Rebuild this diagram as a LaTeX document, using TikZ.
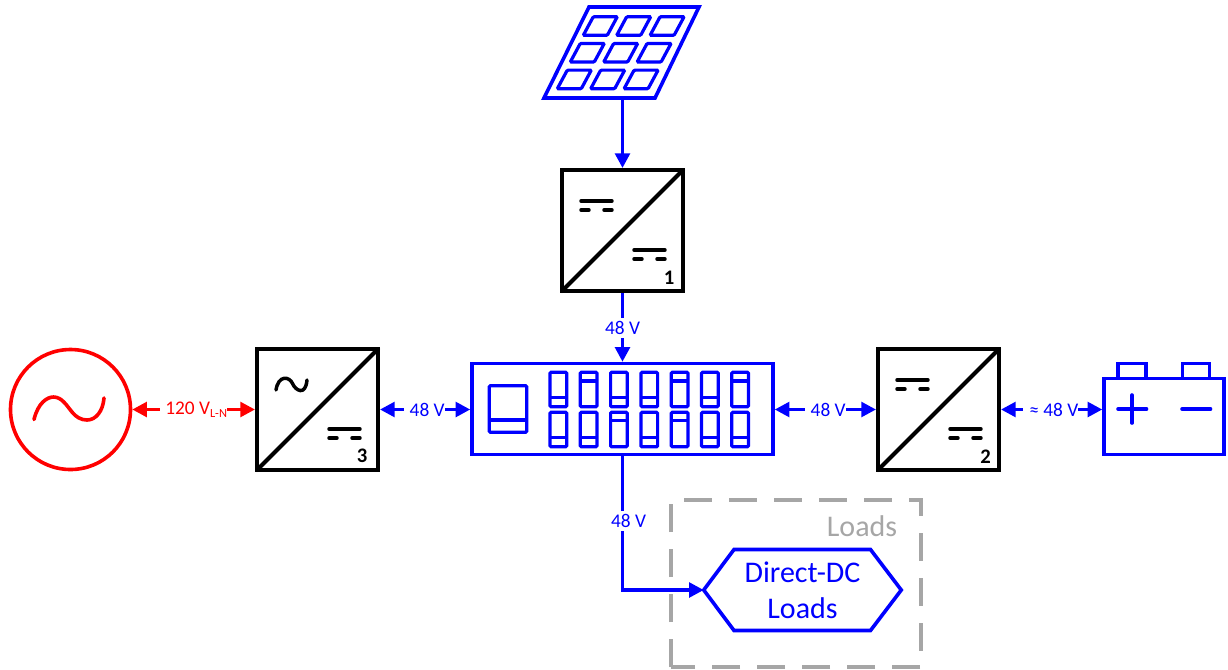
\documentclass[tikz,border=0pt]{standalone}
\usepackage{fontspec}
\setmainfont{Carlito}
\usetikzlibrary{arrows.meta}
\definecolor{busblue}{RGB}{0,0,255}
\definecolor{acred}{RGB}{255,0,0}
\definecolor{loadgray}{RGB}{166,166,166}
\tikzset{
  x=0.75pt,y=-0.75pt,
  line join=round,
  convbox/.style={draw=black,line width=3pt,fill=white,minimum size=90.75pt,inner sep=0pt,outer sep=1.5pt},
  convline/.style={draw=black,line width=3pt,line cap=round},
  markline/.style={draw=black,line width=2.6pt,line cap=round},
  convnum/.style={font=\fontsize{15.5}{16}\selectfont\bfseries,text=black,inner sep=0pt},
  bluebox/.style={draw=busblue,line width=2.7pt,fill=white,inner sep=0pt,outer sep=1.3pt},
  icon/.style={draw=busblue,line width=2.4pt,rounded corners=0.8pt},
  heavy/.style={draw=busblue,line width=2.7pt},
  wire/.style={draw=busblue,line width=2.6pt},
  redwire/.style={draw=acred,line width=2.6pt},
  tip/.style={-{Triangle[length=11pt,width=11pt]}},
  tips/.style={{Triangle[length=11pt,width=11pt]}-{Triangle[length=11pt,width=11pt]}},
  vlabel/.style={fill=white,text=busblue,inner xsep=0pt,inner ysep=2.5pt,font=\fontsize{14.5}{15}\selectfont},
  rlabel/.style={fill=white,text=acred,inner xsep=0pt,inner ysep=2.5pt,font=\fontsize{14.5}{15}\selectfont},
}
\newcommand{\dcmark}[2]{%
  \draw[markline] (#1,#2) -- ++(31,0);
  \draw[markline] (#1,#2+9) -- ++(8,0);
  \draw[markline] (#1+23,#2+9) -- ++(8,0);
}
\begin{document}
\begin{tikzpicture}
\useasboundingbox (0,0) rectangle (1228,669);
\fill[white] (0,0) rectangle (1228,669);

% nodes
\node[convbox] (conv1) at (622.5,230.5) {};
\node[convbox] (conv3) at (317.5,409.5) {};
\node[convbox] (conv2) at (938.5,409.5) {};
\node[bluebox,minimum width=225.75pt,minimum height=68.25pt] (bus) at (622.5,409) {};
\node[draw=acred,line width=2.7pt,circle,minimum size=90pt,inner sep=0pt,outer sep=1.3pt] (grid) at (70.5,409.5) {};
\node[bluebox,minimum width=90pt,minimum height=57pt] (bat) at (1164,416.3) {};
\node[inner sep=0pt,minimum width=147.75pt,minimum height=60.75pt] (hex) at (802.5,590) {};
\node[inner sep=0pt,text=loadgray,font=\fontsize{22.5}{27}\selectfont] (loadstitle) at (862,526) {Loads};
\coordinate (solarfoot) at (622.5,98);

% Loads group
\draw[loadgray,line width=3pt,dash pattern=on 21pt off 12.75pt] (671,667) -- (671,500) -- (921,500) -- (921,667) -- cycle;

% hexagon
\draw[heavy,fill=white] (hex.west) -- (734,549.5) -- (870.5,549.5) -- (hex.east) -- (870.5,630.5) -- (734,630.5) -- cycle;
\node[inner sep=0pt,text=busblue,align=center,font=\fontsize{22.5}{27}\selectfont] (hextext) at (hex.center) {Direct-DC\\Loads};

% solar panel
\draw[heavy] (589,7) -- (699,7) -- (655,98) -- (544,98) -- cycle;
\foreach \i in {0,1,2}
  \foreach \j in {0,1,2} {
    \pgfmathsetmacro{\tx}{593.3+33.4*\i-13*\j}
    \pgfmathsetmacro{\ty}{16.7+26.7*\j}
    \draw[icon] (\tx,\ty) -- ++(24,0) -- ++(-10,18.6) -- ++(-24,0) -- cycle;
  }

% connectors
\draw[wire,tip] (solarfoot) -- (conv1.north);
\draw[wire,tip] (conv1.south) -- (bus.north);
\draw[wire,tip] (bus.south) |- (hex.west);
\draw[wire,tips] (conv3.east) -- (conv3.east -| bus.west);
\draw[wire,tips] (conv2.west -| bus.east) -- (conv2.west);
\draw[wire,tips] (conv2.east) -- (conv2.east -| bat.west);
\draw[redwire,tips] (grid.east) -- (conv3.west);

% labels
\node[vlabel] (l1) at (622.5,328) {48 V};
\node[vlabel] (l2) at (628.5,520.5) {48 V};
\node[vlabel] (l3) at (424.5,410) {\hspace*{4pt}48 V};
\node[vlabel] (l4) at (825.5,410) {\hspace*{4pt}48 V};
\node[vlabel] (l5) at (1050.5,410) {\hspace*{5pt}≈ 48 V};
\node[rlabel] (l6) at (193.5,410) {\hspace*{4pt}120 V\raisebox{-0.35ex}{\fontsize{9.3}{10}\selectfont L-N}};

% converter diagonals and marks
\foreach \n in {1,2,3} {
  \begin{scope}[shift={(conv\n.center)}]
    \draw[convline] (-60.5,60.5) -- (60.5,-60.5);
    \dcmark{11.5}{19.5}
  \end{scope}
}
\begin{scope}[shift={(conv1.center)}]
  \dcmark{-41.5}{-29.5}
  \node[convnum] (n1) at (46.5,47.5) {1};
\end{scope}
\begin{scope}[shift={(conv2.center)}]
  \dcmark{-41.5}{-29.5}
  \node[convnum] (n2) at (47,47.5) {2};
\end{scope}
\begin{scope}[shift={(conv3.center)}]
  \draw[markline] (-41.5,-19.5) .. controls (-39,-35) and (-28,-33) .. (-25,-26)
     .. controls (-22,-19) and (-12,-13) .. (-10.5,-29.5);
  \node[convnum] (n3) at (44.5,46) {3};
\end{scope}

% grid sine
\draw[draw=acred,line width=2.7pt,line cap=round] (34,419.5)
   .. controls (38,403) and (47,397) .. (53.5,397)
   .. controls (62,397) and (67,406) .. (72,412)
   .. controls (76,417) and (81,420) .. (87,420)
   .. controls (96,420) and (103,411) .. (104,398);

% distribution bus icons
\draw[icon] (489.3,385.7) rectangle (526.7,432.3);
\draw[icon] (489.3,420) -- (526.7,420);
\foreach \c/\t/\b in {0/0/0,1/1/0,2/0/1,3/0/0,4/1/1,5/0/0,6/1/0} {
  \pgfmathsetmacro{\bx}{550+30.3*\c}
  \pgfmathsetmacro{\ta}{\t==1 ? 381 : 397.7}
  \pgfmathsetmacro{\tb}{\b==1 ? 420.5 : 437.7}
  \draw[icon] (\bx,372.3) rectangle ++(16.7,34.4);
  \draw[icon] (\bx,\ta) -- ++(16.7,0);
  \draw[icon] (\bx,412.3) rectangle ++(16.7,34.4);
  \draw[icon] (\bx,\tb) -- ++(16.7,0);
}

% battery terminals and signs
\draw[heavy] (1118,378) -- (1118,363.5) -- (1146,363.5) -- (1146,378);
\draw[heavy] (1182.5,378) -- (1182.5,363.5) -- (1209.5,363.5) -- (1209.5,378);
\draw[heavy,line cap=round] (1118,409) -- (1146.5,409);
\draw[heavy,line cap=round] (1132,395) -- (1132,423);
\draw[heavy,line cap=round] (1182,409) -- (1210.5,409);
\end{tikzpicture}
\end{document}
